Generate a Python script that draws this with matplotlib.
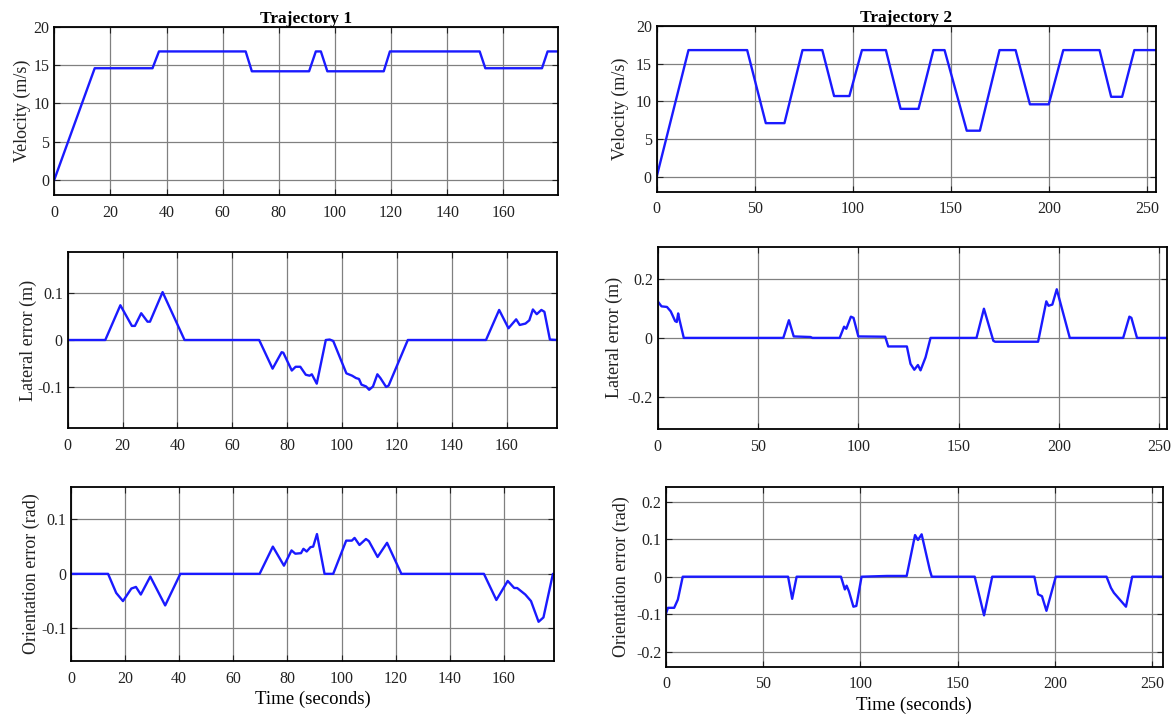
import matplotlib
matplotlib.use('Agg')
import matplotlib.pyplot as plt
from matplotlib.ticker import FuncFormatter

plt.rcParams['font.family'] = ['Liberation Serif', 'DejaVu Serif']
plt.rcParams['axes.unicode_minus'] = False

# trajectory 1 velocity profile (s, m/s)
t_vel1 = [0, 14.4, 35.0, 37.3, 68.2, 70.4, 90.8, 93.2, 95.0, 97.3, 117.4, 119.6,
          151.6, 153.6, 173.8, 175.8, 179.4]
vel1 = [0, 14.6, 14.6, 16.8, 16.8, 14.2, 14.2, 16.8, 16.8, 14.2, 14.2, 16.8,
        16.8, 14.6, 14.6, 16.8, 16.8]

# trajectory 2 velocity profile
t_vel2 = [0, 16.2, 46.1, 55.6, 65.1, 74.3, 84.4, 90.4, 98.2, 104.6, 116.8, 124.3,
          133.4, 141.0, 146.7, 158.0, 164.7, 174.7, 182.9, 190.2, 199.8, 207.2,
          225.7, 231.6, 237.2, 243.4, 254.3]
vel2 = [0, 16.8, 16.8, 7.1, 7.1, 16.8, 16.8, 10.7, 10.7, 16.8, 16.8, 9.0,
        9.0, 16.8, 16.8, 6.1, 6.1, 16.8, 16.8, 9.6, 9.6, 16.8,
        16.8, 10.6, 10.6, 16.8, 16.8]

# lateral error, trajectory 1
t_lat1 = [0, 13.7, 19.2, 23.4, 24.5, 26.8, 29.1, 30.0, 34.6, 42.6, 69.8, 74.7, 78.0,
          78.6, 81.7, 83.1, 84.8, 86.8, 88.2, 89.0, 90.8, 94.1, 95.5, 96.8, 101.6,
          103.7, 105.1, 106.2, 107.1, 108.8, 109.9, 111.3, 112.9, 114.0, 116.1, 117.0,
          124.0, 152.5, 157.3, 160.7, 163.5, 164.8, 166.9, 168.3, 169.6, 171.0, 172.7,
          173.8, 175.8, 178.6]
lat1 = [0, 0, 0.074, 0.030, 0.030, 0.057, 0.039, 0.039, 0.102, 0, 0, -0.061, -0.026,
        -0.027, -0.065, -0.057, -0.057, -0.074, -0.076, -0.073, -0.093, 0, 0.001, -0.002, -0.071,
        -0.076, -0.081, -0.083, -0.095, -0.099, -0.106, -0.099, -0.073, -0.081, -0.100, -0.097,
        0, 0, 0.064, 0.025, 0.044, 0.032, 0.035, 0.042, 0.065, 0.055, 0.064,
        0.060, 0.001, 0]

# lateral error, trajectory 2
t_lat2 = [0, 1.9, 4.6, 6.5, 8.7, 9.5, 10.2, 10.8, 13.0, 62.6, 65.4, 67.8, 76.2, 77.1,
          90.7, 92.9, 94.0, 96.3, 97.6, 100.0, 113.4, 114.9, 124.2, 126.0, 127.9, 129.7,
          131.0, 133.5, 136.0, 158.9, 162.6, 167.3, 168.2, 189.6, 193.7, 194.8, 196.7,
          198.9, 205.4, 232.0, 235.1, 236.1, 238.9, 254.0]
lat2 = [0.124, 0.107, 0.105, 0.090, 0.057, 0.054, 0.083, 0.063, 0, 0, 0.060, 0.005, 0.003, 0,
        0, 0.038, 0.031, 0.072, 0.068, 0.005, 0.004, -0.029, -0.029, -0.088, -0.108, -0.092,
        -0.110, -0.066, 0, 0, 0.099, -0.010, -0.013, -0.013, 0.124, 0.109, 0.113,
        0.165, 0, 0, 0.072, 0.068, 0, 0]

# orientation error, trajectory 1
t_ori1 = [0, 13.7, 16.7, 19.2, 22.3, 24.0, 25.8, 29.3, 34.8, 40.4, 69.7, 74.6, 78.7,
          81.5, 82.9, 85.0, 85.9, 87.1, 88.5, 89.5, 90.9, 93.7, 96.9, 101.7, 103.8,
          104.8, 106.6, 109.0, 110.1, 113.3, 116.8, 122.1, 152.6, 157.2, 161.4, 163.8,
          164.9, 167.9, 170.0, 172.8, 174.6, 178.1, 178.6]
ori1 = [0, 0, -0.035, -0.050, -0.027, -0.024, -0.038, -0.005, -0.058, 0, 0, 0.050, 0.015,
        0.043, 0.037, 0.038, 0.046, 0.041, 0.049, 0.050, 0.073, 0, 0, 0.061, 0.061,
        0.066, 0.053, 0.064, 0.060, 0.031, 0.057, 0, 0, -0.048, -0.013, -0.026,
        -0.026, -0.038, -0.050, -0.088, -0.080, 0, 0]

# orientation error, trajectory 2
t_ori2 = [0, 1.0, 4.2, 6.1, 8.6, 62.8, 64.9, 67.2, 90.0, 92.0, 92.9, 94.1, 96.4, 97.9,
          100.6, 113.7, 123.8, 128.1, 129.6, 131.5, 135.7, 136.7, 158.8, 163.6, 167.8,
          189.5, 191.4, 193.4, 195.7, 200.5, 226.6, 228.9, 230.4, 236.6, 239.8, 255.5]
ori2 = [-0.098, -0.083, -0.083, -0.061, 0, 0, -0.059, 0, 0, -0.034, -0.024, -0.039, -0.080, -0.078,
        0, 0.002, 0.002, 0.111, 0.098, 0.113, 0.018, 0, 0, -0.103, 0,
        0, -0.047, -0.052, -0.091, 0, 0, -0.030, -0.043, -0.080, 0, 0]

W, H = 1175, 720


def px_axes(fig, left, right, top, bottom):
    # axes placed by pixel edges of the reference
    return fig.add_axes([left / W, 1 - bottom / H, (right - left) / W, (bottom - top) / H])


def style(ax, xlim, ylim, xticks, yticks, ylabel, pad):
    ax.set_xlim(*xlim)
    ax.set_ylim(*ylim)
    ax.set_xticks(xticks)
    ax.set_yticks(yticks)
    ax.yaxis.set_major_formatter(FuncFormatter(lambda v, p: '%g' % round(v, 3)))
    ax.grid(True, color='#808080', linewidth=0.9)
    ax.tick_params(direction='in', top=True, right=True, length=4, labelsize=11.5,
                   colors='#222222')
    ax.tick_params(axis='x', pad=7)
    ax.tick_params(axis='y', pad=3.5)
    for s in ax.spines.values():
        s.set_linewidth(1.3)
    ax.set_ylabel(ylabel, fontsize=13, color='#222222', labelpad=pad)


fig = plt.figure(figsize=(W / 100, H / 100), dpi=100)
blue = '#1a1aff'

ax = px_axes(fig, 54.3, 557.7, 27, 195)
ax.plot(t_vel1, vel1, color=blue, lw=1.7)
style(ax, (0, 179.4), (-2, 20), range(0, 161, 20), [0, 5, 10, 15, 20], 'Velocity (m/s)', 1.6)
ax.set_title('Trajectory 1', fontsize=12.5, fontweight='bold', pad=3)

ax = px_axes(fig, 656.7, 1155.7, 26, 191.7)
ax.plot(t_vel2, vel2, color=blue, lw=1.7)
style(ax, (0, 254.3), (-2, 20), range(0, 251, 50), [0, 5, 10, 15, 20], 'Velocity (m/s)', 5)
ax.set_title('Trajectory 2', fontsize=12.5, fontweight='bold', pad=3)

ax = px_axes(fig, 67.7, 557.3, 251.7, 428.3)
ax.plot(t_lat1, lat1, color=blue, lw=1.7)
style(ax, (0, 178.5), (-0.188, 0.188), range(0, 161, 20), [-0.1, 0, 0.1],
      'Lateral error (m)', 0.5)

ax = px_axes(fig, 657.7, 1166.7, 246.5, 429.3)
ax.plot(t_lat2, lat2, color=blue, lw=1.7)
style(ax, (0, 253.7), (-0.31, 0.31), range(0, 251, 50), [-0.2, 0, 0.2],
      'Lateral error (m)', 3)

ax = px_axes(fig, 71, 554, 486.7, 661)
ax.plot(t_ori1, ori1, color=blue, lw=1.7)
style(ax, (0, 178.5), (-0.16, 0.16), range(0, 161, 20), [-0.1, 0, 0.1],
      'Orientation error (rad)', 1)
ax.set_xlabel('Time (seconds)', fontsize=13.5, labelpad=3)

ax = px_axes(fig, 666, 1162.7, 486.7, 666.7)
ax.plot(t_ori2, ori2, color=blue, lw=1.7)
style(ax, (0, 255.5), (-0.24, 0.24), range(0, 251, 50), [-0.2, -0.1, 0, 0.1, 0.2],
      'Orientation error (rad)', 4.5)
ax.set_xlabel('Time (seconds)', fontsize=13.5, labelpad=3)

fig.savefig('out.png', dpi=100)
